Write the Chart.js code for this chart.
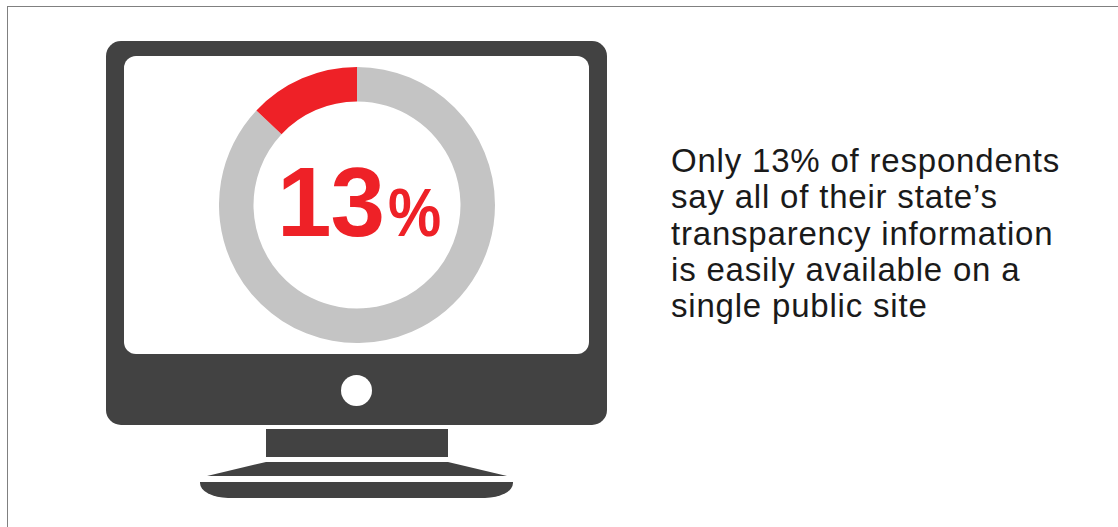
<!DOCTYPE html>
<html>
<head>
<meta charset="utf-8">
<title>Transparency information</title>
<script src="https://cdn.jsdelivr.net/npm/chart.js@4"></script>
<style>
    html, body { margin: 0; padding: 0; background: #fff; }
    #page { position: relative; width: 1118px; height: 527px; overflow: hidden; font-family: "Liberation Sans", sans-serif; }
    #page div, #page canvas { position: absolute; }

    .frameTop { left: 7px; top: 6px; width: 1111px; height: 1px; background: #808080; }
    .frameLeft { left: 7px; top: 6px; width: 1px; height: 521px; background: #808080; }

    /* monitor */
    .bezel { left: 106px; top: 41px; width: 501px; height: 384px; border-radius: 15px; background: #424242; }
    .screen { left: 124px; top: 56px; width: 465px; height: 298px; border-radius: 12px; background: #fff; }
    .button { left: 341px; top: 375px; width: 31px; height: 31px; border-radius: 50%; background: #fff; }
    .neck { left: 266px; top: 429px; width: 182px; height: 28px; background: #424242; }
    .base { left: 207px; top: 462px; width: 300px; height: 14px; background: #424242; clip-path: polygon(59px 0, 241px 0, 100% 100%, 0 100%); }
    .foot { left: 200px; top: 482px; width: 313px; height: 16px; background: #424242; border-radius: 0 0 28px 28px / 0 0 15px 15px; }

    #donut { left: 219px; top: 67px; width: 276px; height: 276px; }
    .bigValue { left: 277px; top: 143px; color: #ee2127; font-weight: bold; font-size: 98px; line-height: 118px; letter-spacing: -1px; white-space: nowrap; }
    .bigValue span { display: inline-block; font-size: 68px; line-height: 1; margin-left: 4px; letter-spacing: 0; transform: scaleX(0.88); transform-origin: left bottom; }

    .caption { left: 671px; top: 143px; color: #1a1a1a; font-size: 33px; line-height: 36.3px; letter-spacing: 0.8px; white-space: pre; }
</style>
</head>
<body>
<div id="page">
    <div class="frameTop"></div>
    <div class="frameLeft"></div>
    <div class="bezel"></div>
    <div class="screen"></div>
    <div class="button"></div>
    <div class="neck"></div>
    <div class="base"></div>
    <div class="foot"></div>
    <canvas id="donut" width="276" height="276"></canvas>
    <div class="bigValue" id="bigValue"></div>
    <div class="caption" id="caption"></div>
</div>
<script>
const categories = ['Other', 'All information on a single public site'];
const shareValues = [87, 13];
const sliceColors = ['#c4c4c4', '#ee2127'];
const captionLines = [
    'Only 13% of respondents',
    'say all of their state\u2019s',
    'transparency information',
    'is easily available on a',
    'single public site'
];

document.getElementById('bigValue').innerHTML = shareValues[1] + '<span>%</span>';
document.getElementById('caption').textContent = captionLines.join('\n');

let donutCtx = document.getElementById('donut').getContext('2d');
new Chart(donutCtx, {
    type: 'doughnut',
    data: {
        labels: categories,
        datasets: [{
            data: shareValues,
            backgroundColor: sliceColors,
            borderWidth: 0
        }]
    },
    options: {
        responsive: false,
        cutout: '75%',
        animation: false,
        plugins: {
            legend: { display: false },
            tooltip: { enabled: false }
        }
    }
});
</script>
</body>
</html>
